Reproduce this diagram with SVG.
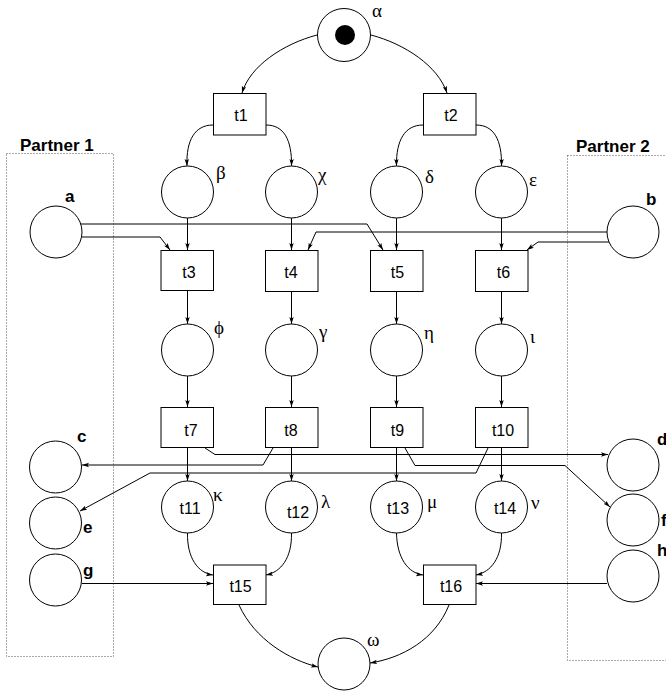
<svg xmlns="http://www.w3.org/2000/svg" width="666" height="692" viewBox="0 0 666 692">
<style>
.pl{fill:#fff;stroke:#000;stroke-width:1}
.tr{fill:#fff;stroke:#000;stroke-width:1}
.lbl{font-family:"Liberation Sans",Arial,sans-serif;font-size:16px;fill:#000;text-anchor:middle}
.gr{font-family:"Liberation Serif","DejaVu Serif",serif;font-size:19px;fill:#000}
.bl{font-family:"Liberation Sans",Arial,sans-serif;font-size:17px;font-weight:bold;fill:#000}
.box{fill:none;stroke:#555;stroke-width:1;stroke-dasharray:1,2}
.arc{fill:none;stroke:#000;stroke-width:1;marker-end:url(#ah)}
</style>
<defs>
<marker id="ah" markerUnits="userSpaceOnUse" markerWidth="8" markerHeight="6" refX="7" refY="3" orient="auto">
<path d="M0,0.8 L7,3 L0,5.2 L1.5,3 z" fill="#000"/>
</marker>
</defs>
<g id="partner1"><rect class="box" x="6.5" y="153.5" width="107" height="503"/><text class="bl" x="20" y="151">Partner 1</text></g>
<g id="partner2"><rect class="box" x="567.5" y="155.5" width="130" height="505"/><text class="bl" x="576" y="152">Partner 2</text></g>
<g id="connectors">
<path class="arc" d="M317,35 C283,44 250,66 242,93"/>
<path class="arc" d="M371,35 C405,44 438,66 447,93"/>
<path class="arc" d="M213,125 C195,125 186,140 187,166"/>
<path class="arc" d="M266,125 C284,125 292,140 291.5,166"/>
<path class="arc" d="M423,125 C405,125 396,140 396.5,166"/>
<path class="arc" d="M476,125 C494,125 502,140 501.5,166"/>
<path class="arc" d="M187.5,218 V250"/>
<path class="arc" d="M291.5,218 V250"/>
<path class="arc" d="M396.5,218 V250"/>
<path class="arc" d="M501.5,218 V250"/>
<path class="arc" d="M187.5,291 V324"/>
<path class="arc" d="M291.5,291 V324"/>
<path class="arc" d="M396.5,291 V324"/>
<path class="arc" d="M501.5,291 V324"/>
<path class="arc" d="M187.5,376 V407"/>
<path class="arc" d="M291.5,376 V407"/>
<path class="arc" d="M396.5,376 V407"/>
<path class="arc" d="M501.5,376 V407"/>
<path class="arc" d="M187.5,448 V481"/>
<path class="arc" d="M291.5,448 V481"/>
<path class="arc" d="M396.5,448 V481"/>
<path class="arc" d="M501.5,448 V481"/>
<path class="arc" d="M81,224 H367 L383,250"/>
<path class="arc" d="M81.5,237 H160 L170,250"/>
<path class="arc" d="M607,232 H316 L308,250"/>
<path class="arc" d="M609,242 H538 L527,250"/>
<path class="arc" d="M205,448 L215,454.5 H608"/>
<path class="arc" d="M273,448 L263,465 H82"/>
<path class="arc" d="M405,448 L415,465.5 H565 L610,507"/>
<path class="arc" d="M488,448 L476,473 H150 L80,511"/>
<path class="arc" d="M187.5,533 C187,558 198,573 213,575"/>
<path class="arc" d="M291.5,533 C292,558 281,572 266,575"/>
<path class="arc" d="M396.5,533 C397,558 408,573 423,575"/>
<path class="arc" d="M501.5,533 C502,558 491,572 476,575"/>
<path class="arc" d="M82,583.5 H213"/>
<path class="arc" d="M607,583.5 H476"/>
<path class="arc" d="M239,605 C255,640 290,660 318,667"/>
<path class="arc" d="M449,605 C435,640 402,658 370,663"/>
</g>
<g id="alpha"><circle class="pl" cx="344" cy="35" r="26.5"/><circle cx="345" cy="35" r="10" fill="#000"/><text class="gr" x="372" y="17">α</text></g>
<g id="t1"><rect class="tr" x="213.5" y="93.5" width="52.5" height="41.5"/><text class="lbl" x="241" y="121">t1</text></g>
<g id="t2"><rect class="tr" x="423.5" y="93.5" width="52.5" height="41.5"/><text class="lbl" x="451" y="121">t2</text></g>
<g id="beta"><circle class="pl" cx="187.5" cy="192" r="26"/><text class="gr" x="216" y="179">β</text></g>
<g id="chi"><circle class="pl" cx="291.5" cy="192" r="26"/><text class="gr" x="318" y="181">χ</text></g>
<g id="delta"><circle class="pl" cx="396.5" cy="192" r="26"/><text class="gr" x="425" y="183">δ</text></g>
<g id="epsilon"><circle class="pl" cx="501.5" cy="192" r="26"/><text class="gr" x="529" y="186">ε</text></g>
<g id="a"><circle class="pl" cx="56" cy="232" r="26"/><text class="bl" x="65" y="202">a</text></g>
<g id="b"><circle class="pl" cx="633" cy="232" r="26"/><text class="bl" x="646" y="205">b</text></g>
<g id="t3"><rect class="tr" x="161" y="250.5" width="52.5" height="40"/><text class="lbl" x="189" y="278">t3</text></g>
<g id="t4"><rect class="tr" x="265.5" y="250.5" width="52.5" height="41"/><text class="lbl" x="291" y="278">t4</text></g>
<g id="t5"><rect class="tr" x="370.5" y="250.5" width="52.5" height="41"/><text class="lbl" x="397.5" y="278">t5</text></g>
<g id="t6"><rect class="tr" x="475.5" y="250.5" width="52.5" height="41"/><text class="lbl" x="503.5" y="278">t6</text></g>
<g id="phi"><circle class="pl" cx="187.5" cy="350" r="26"/><text class="gr" x="214" y="334">ϕ</text></g>
<g id="gamma"><circle class="pl" cx="291.5" cy="350" r="26"/><text class="gr" x="319" y="338">γ</text></g>
<g id="eta"><circle class="pl" cx="396.5" cy="350" r="26"/><text class="gr" x="424" y="339">η</text></g>
<g id="iota"><circle class="pl" cx="501.5" cy="350" r="26"/><text class="gr" x="530" y="343">ι</text></g>
<g id="t7"><rect class="tr" x="161" y="407.5" width="52.5" height="40"/><text class="lbl" x="191" y="436">t7</text></g>
<g id="t8"><rect class="tr" x="265.5" y="407.5" width="52.5" height="40"/><text class="lbl" x="291" y="436">t8</text></g>
<g id="t9"><rect class="tr" x="370.5" y="407.5" width="52.5" height="40"/><text class="lbl" x="397.5" y="436">t9</text></g>
<g id="t10"><rect class="tr" x="475.5" y="407.5" width="52.5" height="40"/><text class="lbl" x="503" y="436">t10</text></g>
<g id="c"><circle class="pl" cx="55.5" cy="467" r="26"/><text class="bl" x="77" y="442">c</text></g>
<g id="e"><circle class="pl" cx="55.5" cy="523" r="26"/><text class="bl" x="83" y="533">e</text></g>
<g id="g"><circle class="pl" cx="55.5" cy="580" r="26"/><text class="bl" x="83" y="576">g</text></g>
<g id="d"><circle class="pl" cx="633" cy="465" r="26"/><text class="bl" x="657" y="445">d</text></g>
<g id="f"><circle class="pl" cx="633" cy="520" r="26"/><text class="bl" x="661" y="526">f</text></g>
<g id="h"><circle class="pl" cx="633" cy="576" r="26"/><text class="bl" x="657" y="556">h</text></g>
<g id="t11"><circle class="pl" cx="187.5" cy="507" r="26"/><text class="lbl" x="190" y="514">t11</text><text class="gr" x="213" y="501">κ</text></g>
<g id="t12"><circle class="pl" cx="291.5" cy="507" r="26"/><text class="lbl" x="298" y="518">t12</text><text class="gr" x="321" y="508">λ</text></g>
<g id="t13"><circle class="pl" cx="396.5" cy="507" r="26"/><text class="lbl" x="398" y="514">t13</text><text class="gr" x="427" y="508">μ</text></g>
<g id="t14"><circle class="pl" cx="501.5" cy="507" r="26"/><text class="lbl" x="505" y="514">t14</text><text class="gr" x="531" y="509">ν</text></g>
<g id="t15"><rect class="tr" x="213.5" y="565" width="52.5" height="39.5"/><text class="lbl" x="240.5" y="592">t15</text></g>
<g id="t16"><rect class="tr" x="423.5" y="565" width="52.5" height="39.5"/><text class="lbl" x="451" y="592">t16</text></g>
<g id="omega"><circle class="pl" cx="344" cy="664" r="26"/><text class="gr" x="367" y="646">ω</text></g>
</svg>
